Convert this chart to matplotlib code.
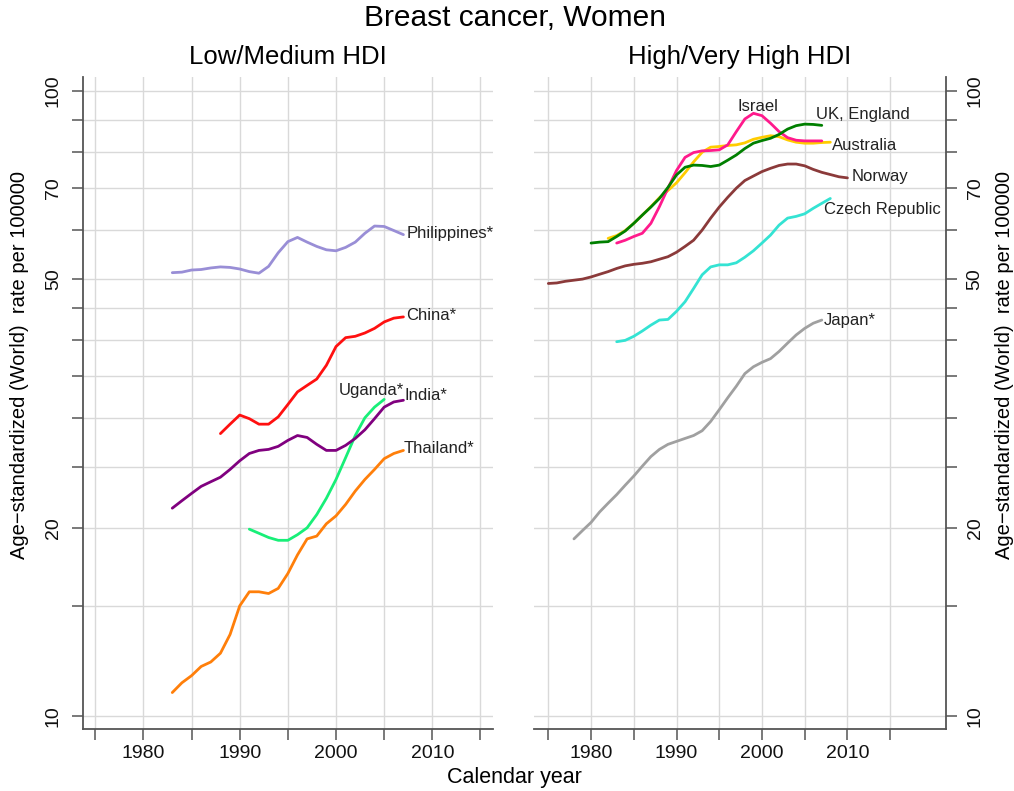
import numpy as np
import matplotlib
matplotlib.use("Agg")
import matplotlib.pyplot as plt
from matplotlib.ticker import FixedLocator, NullFormatter

plt.rcParams['font.family'] = ['Liberation Sans', 'DejaVu Sans']

# --- data (age-standardized rate per 100000), first year + yearly values ---
philippines_start = 1983
philippines = [51.2, 51.3, 51.7, 51.8, 52.1, 52.3, 52.2, 51.9, 51.4, 51.1, 52.4, 55.1, 57.4,
               58.3, 57.3, 56.4, 55.7, 55.5, 56.2, 57.3, 59.2, 60.8, 60.7, 59.8, 58.9]
china_start = 1988
china = [28.3, 29.3, 30.3, 29.9, 29.3, 29.3, 30.1, 31.5, 33.0, 33.8, 34.6, 36.4, 39.0,
         40.3, 40.5, 41.0, 41.7, 42.7, 43.3, 43.5]
india_start = 1983
india = [21.5, 22.1, 22.7, 23.3, 23.7, 24.1, 24.8, 25.6, 26.3, 26.6, 26.7, 27.0, 27.6,
         28.1, 27.9, 27.2, 26.6, 26.6, 27.1, 27.8, 28.7, 29.9, 31.2, 31.8, 32.0]
uganda_start = 1991
uganda = [19.9, 19.6, 19.3, 19.1, 19.1, 19.5, 20.0, 21.0, 22.3, 23.9, 25.9, 28.1, 30.0,
          31.2, 32.1]
thailand_start = 1983
thailand = [10.9, 11.3, 11.6, 12.0, 12.2, 12.6, 13.5, 15.0, 15.8, 15.8, 15.7, 16.0, 16.9,
            18.1, 19.2, 19.4, 20.3, 20.9, 21.8, 22.9, 23.9, 24.8, 25.8, 26.3, 26.6]

israel_start = 1983
israel = [57.1, 57.7, 58.5, 59.2, 61.4, 65.3, 69.9, 74.6, 78.3, 79.7, 80.2, 80.3, 80.5,
          82.0, 86.1, 90.2, 92.1, 91.3, 88.8, 86.1, 84.2, 83.4, 83.2, 83.2, 83.2]
uk_start = 1980
uk = [57.1, 57.3, 57.4, 58.5, 59.7, 61.4, 63.3, 65.2, 67.3, 70.1, 73.4, 75.5, 76.1, 76.0,
      75.7, 76.1, 77.5, 79.0, 80.9, 82.5, 83.3, 84.0, 85.2, 86.9, 88.0, 88.5, 88.4, 88.1]
australia_start = 1982
australia = [58.1, 58.7, 59.8, 61.4, 63.3, 65.3, 67.5, 69.3, 71.3, 74.0, 77.0, 79.8, 81.3,
             81.5, 81.8, 82.0, 82.6, 83.7, 84.3, 84.8, 84.5, 83.5, 82.8, 82.5, 82.5, 82.7, 82.8]
norway_start = 1975
norway = [49.2, 49.3, 49.6, 49.8, 50.0, 50.4, 50.9, 51.4, 52.0, 52.5, 52.8, 53.0, 53.3,
          53.8, 54.3, 55.2, 56.4, 57.7, 59.9, 62.6, 65.2, 67.6, 69.9, 71.9, 73.1, 74.3,
          75.2, 76.0, 76.4, 76.4, 75.9, 74.9, 74.1, 73.5, 72.9, 72.6]
czech_start = 1983
czech = [39.7, 39.9, 40.5, 41.3, 42.2, 43.0, 43.1, 44.4, 46.0, 48.3, 50.8, 52.3, 52.7,
         52.7, 53.1, 54.2, 55.5, 57.1, 58.8, 61.0, 62.6, 63.0, 63.6, 64.9, 66.1, 67.3]
japan_start = 1978
japan = [19.2, 19.8, 20.4, 21.2, 21.9, 22.6, 23.4, 24.2, 25.1, 26.0, 26.7, 27.2, 27.5,
         27.8, 28.1, 28.6, 29.6, 30.9, 32.3, 33.7, 35.3, 36.2, 36.8, 37.3, 38.3, 39.5,
         40.7, 41.7, 42.5, 43.0]

y_major = [10, 20, 50, 70, 100]
y_minor = [15, 25, 30, 35, 40, 45, 60, 80, 90]
x_major = [1980, 1990, 2000, 2010]
x_minor = [1975, 1985, 1995, 2005, 2015]

# label, start, values, colour, offset px (dx, dy up), ha, anchor ('end' or 'max')
left_series = [
    ("Philippines*", philippines_start, philippines, "#998ed6", (3, 1), "left", "end"),
    ("China*", china_start, china, "#ff1010", (3, 1), "left", "end"),
    ("Uganda*", uganda_start, uganda, "#18ef78", (-13, 9), "center", "end"),
    ("India*", india_start, india, "#80007f", (1, 5), "left", "end"),
    ("Thailand*", thailand_start, thailand, "#ff7f0a", (0, 2), "left", "end"),
]
right_series = [
    ("Norway", norway_start, norway, "#8b3a3a", (4, 1), "left", "end"),
    ("Czech Republic", czech_start, czech, "#34e3d3", (-6, -11), "left", "end"),
    ("Japan*", japan_start, japan, "#a0a0a0", (2, 0), "left", "end"),
    ("Australia", australia_start, australia, "#ffcc00", (2, -3), "left", "end"),
    ("Israel", israel_start, israel, "#ff1a8c", (5, 7), "center", "max"),
    ("UK, England", uk_start, uk, "#007f00", (-6, 11), "left", "end"),
]

W, H = 1014, 791
fig = plt.figure(figsize=(W / 100, H / 100), dpi=100)
ax1 = fig.add_axes([82.7 / W, 1 - 729.3 / H, (493 - 82.7) / W, (729.3 - 76.7) / H])
ax2 = fig.add_axes([534.3 / W, 1 - 729.3 / H, (945.7 - 534.3) / W, (729.3 - 76.7) / H])

spine_col = "#555555"
px = 0.72  # points per pixel


def style_axis(ax, side):
    ax.set_yscale("log")
    ax.set_ylim(9.52, 105.4)
    ax.yaxis.set_major_locator(FixedLocator(y_major))
    ax.yaxis.set_minor_locator(FixedLocator(y_minor))
    ax.set_yticklabels([str(v) for v in y_major])
    ax.yaxis.set_minor_formatter(NullFormatter())
    ax.xaxis.set_major_locator(FixedLocator(x_major))
    ax.xaxis.set_minor_locator(FixedLocator(x_minor))
    ax.set_xticklabels([str(v) for v in x_major])
    ax.grid(True, which="both", color="#d9d9d9", lw=1.0)
    ax.set_axisbelow(True)
    for s in ax.spines.values():
        s.set_visible(False)
    ax.spines["bottom"].set_visible(True)
    ax.spines[side].set_visible(True)
    for s in ("bottom", side):
        ax.spines[s].set_color(spine_col)
        ax.spines[s].set_linewidth(1.3)
    ax.tick_params(which="both", direction="out", length=8, width=1.1, color=spine_col,
                   labelsize=14, labelcolor="#111111")
    ax.tick_params(axis="x", which="both", pad=3)
    ax.tick_params(axis="y", which="both", pad=7)
    if side == "right":
        ax.yaxis.tick_right()
    for t in ax.get_yticklabels():
        t.set_rotation(90)
        t.set_va("center")


def draw(ax, series):
    for name, start, vals, col, (dx, dy), ha, anchor in series:
        yrs = np.arange(start, start + len(vals))
        ax.plot(yrs, vals, color=col, lw=2.0, solid_joinstyle="round",
                solid_capstyle="round")
        i = int(np.argmax(vals)) if anchor == "max" else len(vals) - 1
        ax.annotate(name, (yrs[i], vals[i]), xytext=(dx * px, dy * px),
                    textcoords="offset points", ha=ha, va="center",
                    fontsize=12, color="#222222")


style_axis(ax1, "left")
style_axis(ax2, "right")
ax1.set_xlim(1973.7, 2016.3)
ax2.set_xlim(1973.36, 2021.5)
draw(ax1, left_series)
draw(ax2, right_series)

fig.text(515 / W, 1 - 18 / H, "Breast cancer, Women", ha="center", va="center", fontsize=21.5)
fig.text(288 / W, 1 - 57 / H, "Low/Medium HDI", ha="center", va="center", fontsize=18.5)
fig.text(740 / W, 1 - 57 / H, "High/Very High HDI", ha="center", va="center", fontsize=18.5)
fig.text(514 / W, 1 - 778 / H, "Calendar year", ha="center", va="center", fontsize=15.5)
ylab = "Age\u2212standardized (World)  rate per 100000"
fig.text(20 / W, 1 - 365 / H, ylab, rotation=90, ha="center", va="center", fontsize=14.5)
fig.text(1004 / W, 1 - 365 / H, ylab, rotation=90, ha="center", va="center", fontsize=14.5)

fig.savefig("out.png", dpi=100)
